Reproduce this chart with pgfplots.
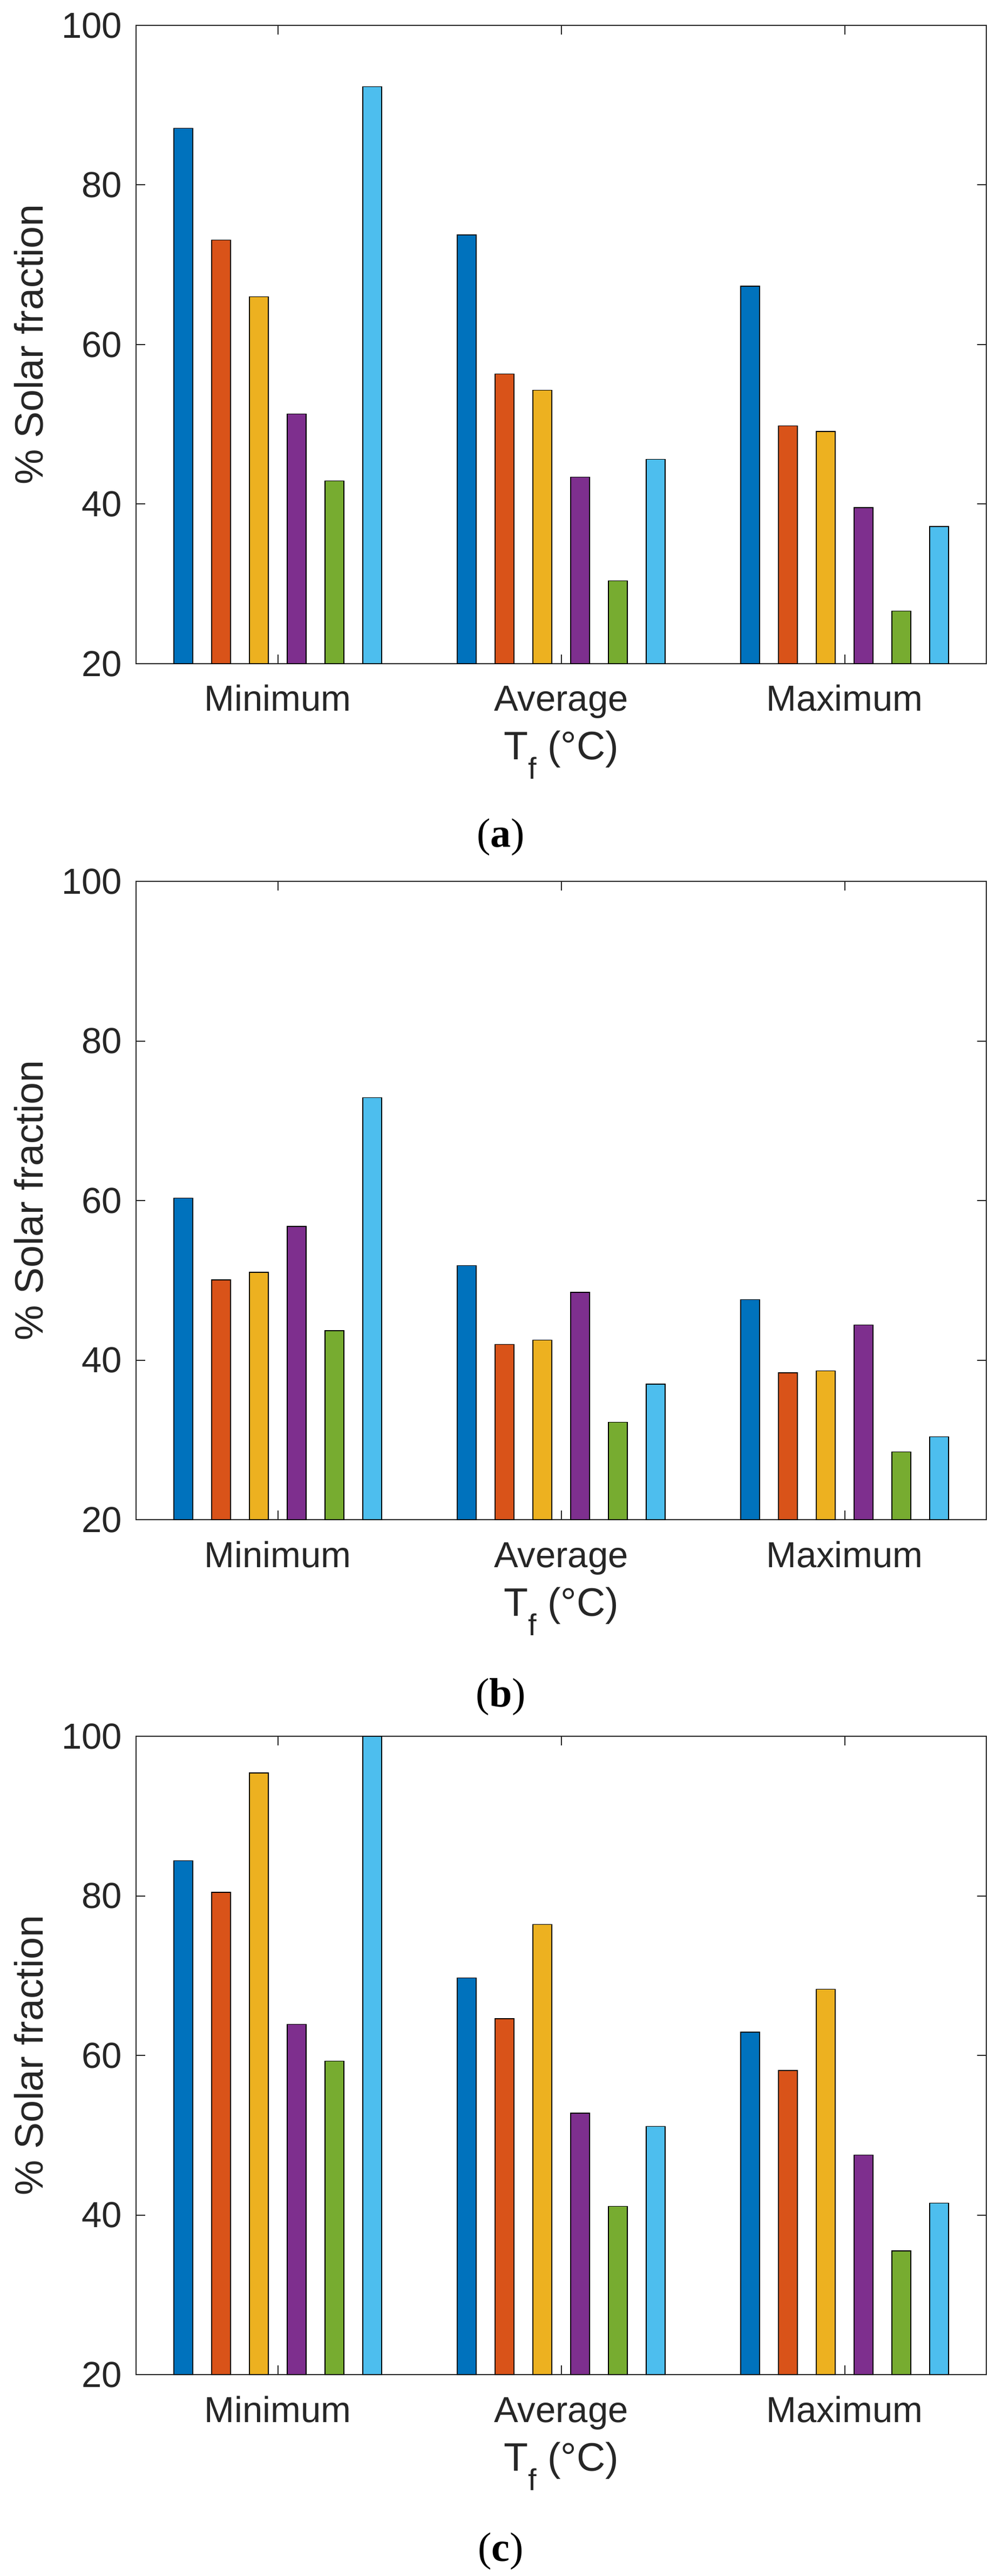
\documentclass[border=0pt]{standalone}
\usepackage{fontspec}
\setmainfont{Liberation Sans}
\newfontfamily\capfont{Liberation Serif}
\usepackage{pgfplots}
\pgfplotsset{compat=1.18}
\usepackage{pgfplotstable}

\definecolor{c1}{HTML}{0072BD}
\definecolor{c2}{HTML}{D95319}
\definecolor{c3}{HTML}{EDB120}
\definecolor{c4}{HTML}{7E2F8E}
\definecolor{c5}{HTML}{77AC30}
\definecolor{c6}{HTML}{4DBEEE}
\definecolor{axgray}{HTML}{262626}

\pgfplotstableread{
g c1 c2 c3 c4 c5 c6
1 87.1 73.1 66.0 51.3 42.9 92.3
2 73.75 56.3 54.3 43.4 30.4 45.6
3 67.3 49.8 49.1 39.55 26.6 37.2
}\dataA
\pgfplotstableread{
g c1 c2 c3 c4 c5 c6
1 60.3 50.05 51.0 56.75 43.7 72.9
2 51.85 41.97 42.5 48.5 32.2 37.0
3 47.6 38.4 38.65 44.4 28.5 30.4
}\dataB
\pgfplotstableread{
g c1 c2 c3 c4 c5 c6
1 84.4 80.45 95.4 63.9 59.3 100
2 69.7 64.6 76.4 52.75 41.1 51.1
3 62.9 58.1 68.3 47.5 35.5 41.5
}\dataC

\pgfplotsset{
  panel/.style={
    scale only axis, width=393.75pt, height=295.5pt, anchor=north west,
    xmin=0.5, xmax=3.5, ymin=20, ymax=100,
    xtick={1,2,3}, xticklabels={Minimum,Average,Maximum},
    ytick={20,40,60,80,100},
    tick align=inside, major tick length=4.25pt,
    axis line style={axgray, line width=0.5pt},
    every tick/.style={axgray, line width=0.5pt},
    /pgf/number format/assume math mode=true,
    ticklabel style={font=\fontsize{16.75pt}{20pt}\selectfont, text=axgray, inner sep=0pt},
    yticklabel style={anchor=east, xshift=-6.25pt},
    xticklabel style={anchor=base, yshift=-22pt},
    xlabel={T\raisebox{-9pt}{\fontsize{14pt}{14pt}\selectfont f} (°C)},
    ylabel={\% Solar fraction},
    label style={font=\fontsize{18.4pt}{22pt}\selectfont, text=axgray, inner sep=0pt},
    xlabel style={at={(axis description cs:0.5,-0.1506)}, anchor=base},
    ylabel style={at={(axis description cs:-0.1092,0.5)}, anchor=base},
    clip=true,
  },
  bars/.style={ybar, bar width=0.0667, draw=black, line width=0.35pt},
}

\newcommand{\panelplots}[1]{%
  \addplot[bars, fill=c1, bar shift=-0.3333] table[x=g,y=c1]{#1};
  \addplot[bars, fill=c2, bar shift=-0.2] table[x=g,y=c2]{#1};
  \addplot[bars, fill=c3, bar shift=-0.0667] table[x=g,y=c3]{#1};
  \addplot[bars, fill=c4, bar shift=0.0667] table[x=g,y=c4]{#1};
  \addplot[bars, fill=c5, bar shift=0.2] table[x=g,y=c5]{#1};
  \addplot[bars, fill=c6, bar shift=0.3333] table[x=g,y=c6]{#1};
}

\begin{document}
\begin{tikzpicture}
\path[use as bounding box] (0,0) rectangle (463.75pt,-1192.5pt);

\begin{axis}[panel, at={(63pt,-11.75pt)}]
\panelplots{\dataA}
\end{axis}

\begin{axis}[panel, at={(63pt,-408pt)}]
\panelplots{\dataB}
\end{axis}

\begin{axis}[panel, at={(63pt,-803.75pt)}]
\panelplots{\dataC}
\end{axis}

\node[anchor=base, font=\capfont\fontsize{19pt}{22pt}\selectfont] at (231.875pt,-392pt) {(\textbf{a})};
\node[anchor=base, font=\capfont\fontsize{19pt}{22pt}\selectfont] at (231.875pt,-790pt) {(\textbf{b})};
\node[anchor=base, font=\capfont\fontsize{19pt}{22pt}\selectfont] at (231.875pt,-1185.5pt) {(\textbf{c})};
\end{tikzpicture}
\end{document}
